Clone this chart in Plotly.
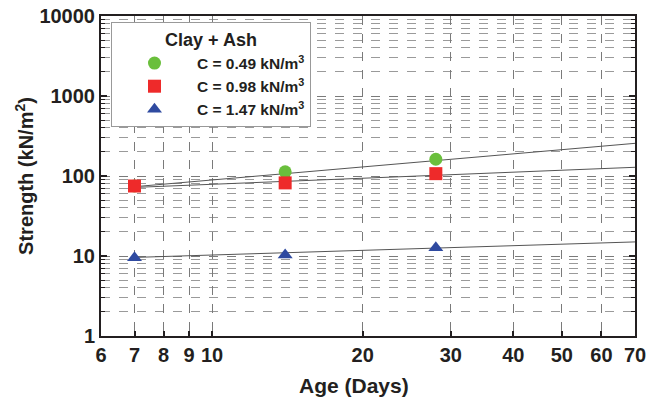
import plotly.graph_objects as go
import math

# ---- data ----
age_days = [7, 14, 28]
strength_c049 = [75, 113, 162]
strength_c098 = [75, 82, 107]
strength_c147 = [9.5, 10.3, 12.7]

trend_age = [7, 70]
trend_c049 = [73.5, 256]
trend_c098 = [72, 128.5]
trend_c147 = [9.6, 15.0]

x_tick_vals = [6, 7, 8, 9, 10, 20, 30, 40, 50, 60, 70]
y_tick_vals = [1, 10, 100, 1000, 10000]

series_names = ["C = 0.49 kN/m<sup>3</sup>", "C = 0.98 kN/m<sup>3</sup>", "C = 1.47 kN/m<sup>3</sup>"]
colors = ["#6abf3c", "#ee2a2a", "#2f4aa0"]
symbols = ["circle", "square", "triangle-up"]

FONT = "Arial, Liberation Sans, Helvetica, sans-serif"
TXT = "#231f20"

fig = go.Figure()

for tx, ty in [(trend_age, trend_c049), (trend_age, trend_c098), (trend_age, trend_c147)]:
    fig.add_trace(go.Scatter(x=tx, y=ty, mode="lines", showlegend=False,
                             line=dict(color="#555555", width=1), hoverinfo="skip"))

for ys, name, col, sym in zip([strength_c049, strength_c098, strength_c147], series_names, colors, symbols):
    fig.add_trace(go.Scatter(x=age_days, y=ys, mode="markers", name=name,
                             marker=dict(color=col, symbol=sym, size=13, line=dict(width=0))))

grid_major = dict(showgrid=True, gridcolor="#7a7a7a", griddash="dash", gridwidth=1)

fig.update_xaxes(type="log", range=[math.log10(6), math.log10(70)], automargin=False,
                 tickvals=x_tick_vals, ticktext=[str(v) for v in x_tick_vals],
                 ticks="inside", ticklen=5, tickwidth=1.5, tickcolor="#231f20",
                 showline=True, linecolor="#231f20", linewidth=2, mirror=True,
                 tickfont=dict(family=FONT, size=20, color=TXT, weight="bold"),
                 ticklabeloverflow="allow",
                 zeroline=False, **grid_major)

fig.update_yaxes(type="log", range=[0, 4], tickvals=y_tick_vals, automargin=False,
                 ticktext=[str(v) for v in y_tick_vals],
                 ticks="inside", ticklen=6, tickwidth=1.5, tickcolor="#231f20",
                 showline=True, linecolor="#231f20", linewidth=2, mirror="ticks",
                 tickfont=dict(family=FONT, size=20, color=TXT, weight="bold"),
                 ticklabeloverflow="allow",
                 zeroline=False, **grid_major,
                 minor=dict(dtick="D1", ticks="inside", ticklen=4, tickwidth=1, tickcolor="#231f20",
                            showgrid=True, gridcolor="#9a9a9a", griddash="dash", gridwidth=1),
                 title=dict(text="Strength (kN/m<sup>2</sup>)", standoff=0,
                            font=dict(family=FONT, size=20, color=TXT, weight="bold")))

fig.add_annotation(text="Age (Days)", xref="paper", yref="paper", x=0.473, y=-0.113,
                   xanchor="center", yanchor="top", showarrow=False,
                   font=dict(family=FONT, size=21, color=TXT, weight="bold"))

fig.update_layout(
    autosize=True,
    margin=dict(l=101, r=13, t=16, b=76, autoexpand=False),
    paper_bgcolor="white", plot_bgcolor="white",
    showlegend=True,
    legend=dict(x=0.0187, y=0.981, xanchor="left", yanchor="top",
                bgcolor="white", bordercolor="#999999", borderwidth=1,
                font=dict(family=FONT, size=15.5, color=TXT, weight="bold"),
                title=dict(text="Clay + Ash", side="top center",
                           font=dict(family=FONT, size=18, color=TXT, weight="bold")),
                itemwidth=75, tracegroupgap=0),
)

post = ("document.documentElement.style.margin='0';"
        "document.documentElement.style.overflow='hidden';"
        "document.body.style.margin='0';"
        "document.body.style.padding='0';"
        "document.body.style.overflow='hidden';"
        "var gd=document.getElementById('{plot_id}');"
        "gd.style.width='648px';gd.style.height='412px';"
        "Plotly.relayout(gd,{width:648,height:412});")

fig.write_html("out.html", post_script=post, config={"displayModeBar": False},
               default_width="648px", default_height="412px")
